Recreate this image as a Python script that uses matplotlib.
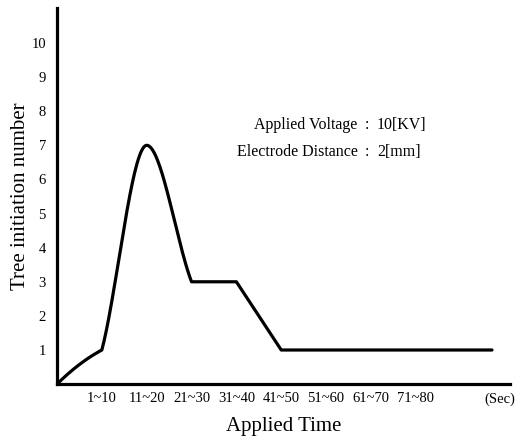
import numpy as np
import matplotlib
matplotlib.use("Agg")
import matplotlib.pyplot as plt

# data
time_pos = [0, 1, 2, 3, 4, 5, 6, 7, 8, 9.7]
tree_count = [0, 1, 7, 3, 3, 1, 1, 1, 1, 1]
# slopes used to smooth each segment (left end, right end)
seg_slopes = [(1.3, 0.7), (5.0, 0.0), (0.0, -3.4), (0, 0), (-2.0, -2.0),
              (0, 0), (0, 0), (0, 0), (0, 0)]
tick_pos = [1, 2, 3, 4, 5, 6, 7, 8, 9.87]
tick_labels = ["1~10", "11~20", "21~30", "31~40", "41~50", "51~60",
               "61~70", "71~80", "(Sec)"]

plt.rcParams['font.family'] = ['Liberation Serif', 'DejaVu Serif']

# hermite smoothing per segment
xs, ys = [], []
for k in range(len(time_pos) - 1):
    x0, x1 = time_pos[k], time_pos[k + 1]
    y0, y1 = tree_count[k], tree_count[k + 1]
    m0, m1 = seg_slopes[k]
    h = x1 - x0
    t = np.linspace(0, 1, 60)
    h00 = 2*t**3 - 3*t**2 + 1
    h10 = t**3 - 2*t**2 + t
    h01 = -2*t**3 + 3*t**2
    h11 = t**3 - t**2
    xs.append(x0 + t*h)
    ys.append(h00*y0 + h10*h*m0 + h01*y1 + h11*h*m1)
xs = np.concatenate(xs)
ys = np.concatenate(ys)

fig = plt.figure(figsize=(5.23, 4.36), dpi=100)
ax = fig.add_axes([0.109, 0.119, 0.866, 0.863])
ax.plot(xs, ys, color='black', lw=2.3, solid_capstyle='round')

ax.set_xlim(0, 10.1)
ax.set_ylim(0, 11.03)
ax.spines['top'].set_visible(False)
ax.spines['right'].set_visible(False)
ax.spines['left'].set_linewidth(2.3)
ax.spines['bottom'].set_linewidth(2.3)
ax.set_yticks(range(1, 11))
ax.set_yticklabels([str(i) for i in range(1, 11)], fontsize=10.5)
ax.set_xticks(tick_pos)
ax.set_xticklabels(tick_labels, fontsize=10.5)
ax.tick_params(axis='x', length=0, pad=6)
ax.tick_params(axis='y', length=0, pad=8)

ax.set_ylabel("Tree initiation number", fontsize=15, labelpad=1)
ax.set_xlabel("Applied Time", fontsize=15, labelpad=8)

fs = 11.5
ax.text(0.664, 0.689, "Applied Voltage", transform=ax.transAxes, ha='right', va='center', fontsize=fs)
ax.text(0.664, 0.617, "Electrode Distance", transform=ax.transAxes, ha='right', va='center', fontsize=fs)
ax.text(0.684, 0.689, ":", transform=ax.transAxes, ha='center', va='center', fontsize=fs)
ax.text(0.684, 0.617, ":", transform=ax.transAxes, ha='center', va='center', fontsize=fs)
ax.text(0.706, 0.689, "10[KV]", transform=ax.transAxes, ha='left', va='center', fontsize=fs)
ax.text(0.706, 0.617, "2[mm]", transform=ax.transAxes, ha='left', va='center', fontsize=fs)

fig.savefig("out.png", dpi=100)
